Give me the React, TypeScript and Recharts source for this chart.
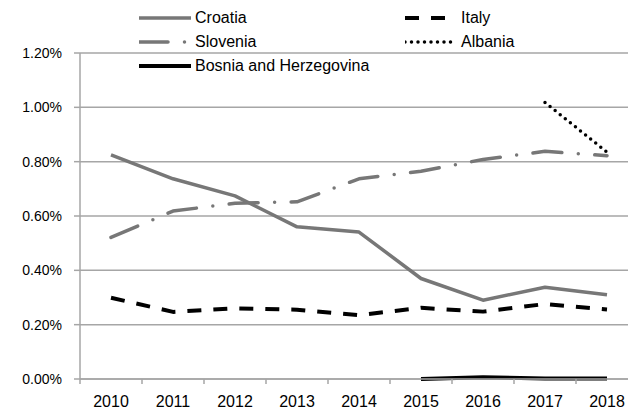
import { LineChart, Line, XAxis, YAxis, CartesianGrid } from 'recharts';

const YEARS = ['2010', '2011', '2012', '2013', '2014', '2015', '2016', '2017', '2018'];
const CROATIA = [0.825, 0.737, 0.674, 0.56, 0.541, 0.37, 0.29, 0.338, 0.31];
const SLOVENIA = [0.521, 0.618, 0.647, 0.652, 0.737, 0.765, 0.808, 0.838, 0.822];
const ITALY = [0.299, 0.247, 0.26, 0.255, 0.235, 0.262, 0.248, 0.276, 0.256];
const ALBANIA = [null, null, null, null, null, null, null, 1.018, 0.835];
const BOSNIA = [null, null, null, null, null, 0.0, 0.006, 0.002, 0.002];
const Y_TICKS = [0, 0.2, 0.4, 0.6, 0.8, 1.0, 1.2];

const data = YEARS.map((year, i) => ({
  year,
  croatia: CROATIA[i],
  slovenia: SLOVENIA[i],
  italy: ITALY[i],
  albania: ALBANIA[i],
  bosnia: BOSNIA[i],
}));

const GRID = '#a6a6a6';
const FONT = '"Liberation Sans", Arial, sans-serif';

// series styles, shared by the lines and the legend
const series = [
  { key: 'croatia', name: 'Croatia', color: '#777777', width: 3.5, dash: undefined, cap: 'butt' },
  { key: 'italy', name: 'Italy', color: '#000000', width: 4, dash: '14 12', cap: 'butt' },
  { key: 'slovenia', name: 'Slovenia', color: '#777777', width: 3.5, dash: '29 16.5 0 16.5', cap: 'round' },
  { key: 'albania', name: 'Albania', color: '#000000', width: 3.5, dash: '0 6.5', cap: 'round' },
  { key: 'bosnia', name: 'Bosnia and Herzegovina', color: '#000000', width: 4, dash: undefined, cap: 'butt' },
];

const CHART_W = 640;
const CHART_H = 412;
const PLOT_LEFT = 80;
const PLOT_RIGHT = 638;
const HALF = (PLOT_RIGHT - PLOT_LEFT) / YEARS.length / 2;

function YearTick(props: any) {
  const { x, y, payload, index } = props;
  return (
    <g>
      <line x1={x - HALF} x2={x - HALF} y1={y} y2={y + 5} stroke={GRID} strokeWidth={1.5} />
      {index === YEARS.length - 1 && (
        <line x1={x + HALF} x2={x + HALF} y1={y} y2={y + 5} stroke={GRID} strokeWidth={1.5} />
      )}
      <text x={x} y={y + 28} textAnchor="middle" fontSize={16} fontFamily={FONT} fill="#000">
        {payload.value}
      </text>
    </g>
  );
}

function LegendItem({ s }: { s: (typeof series)[number] }) {
  return (
    <div style={{ display: 'flex', alignItems: 'center', height: 24 }}>
      <svg width={56} height={10}>
        <line
          x1={0}
          x2={52}
          y1={5}
          y2={5}
          stroke={s.color}
          strokeWidth={s.width}
          strokeDasharray={s.dash}
          strokeLinecap={s.cap as any}
        />
      </svg>
      <span style={{ fontSize: 16, fontFamily: FONT, color: '#000', whiteSpace: 'nowrap' }}>{s.name}</span>
    </div>
  );
}

export default function App() {
  const left = series.filter((_, i) => i % 2 === 0);
  const right = series.filter((_, i) => i % 2 === 1);
  return (
    <div style={{ position: 'absolute', left: 0, top: 0, width: 628, height: 412, overflow: 'hidden', background: '#fff' }}>
      <LineChart
        width={CHART_W}
        height={CHART_H}
        data={data}
        margin={{ top: 53, right: CHART_W - PLOT_RIGHT, bottom: 3, left: 0 }}
      >
        <CartesianGrid vertical={false} stroke={GRID} strokeWidth={1.5} />
        <XAxis
          dataKey="year"
          padding={{ left: HALF, right: HALF }}
          axisLine={{ stroke: GRID, strokeWidth: 1.5 }}
          tickLine={false}
          tickSize={0}
          tickMargin={0}
          height={30}
          interval={0}
          tick={<YearTick />}
        />
        <YAxis
          width={PLOT_LEFT}
          domain={[0, 1.2]}
          ticks={Y_TICKS}
          tickFormatter={(v: number) => v.toFixed(2) + '%'}
          axisLine={{ stroke: GRID, strokeWidth: 1.5 }}
          tickLine={{ stroke: GRID, strokeWidth: 1.5 }}
          tickSize={6}
          tickMargin={12}
          tick={{ fontSize: 14, fontFamily: FONT, fill: '#000' }}
        />
        {series.map((s) => (
          <Line
            key={s.key}
            type="linear"
            dataKey={s.key}
            name={s.name}
            stroke={s.color}
            strokeWidth={s.width}
            strokeDasharray={s.dash}
            strokeLinecap={s.cap as any}
            strokeLinejoin="round"
            dot={false}
            activeDot={false}
            isAnimationActive={false}
          />
        ))}
      </LineChart>
      <div style={{ position: 'absolute', left: 139, top: 6 }}>
        {left.map((s) => (
          <LegendItem key={s.key} s={s} />
        ))}
      </div>
      <div style={{ position: 'absolute', left: 405, top: 6 }}>
        {right.map((s) => (
          <LegendItem key={s.key} s={s} />
        ))}
      </div>
    </div>
  );
}
